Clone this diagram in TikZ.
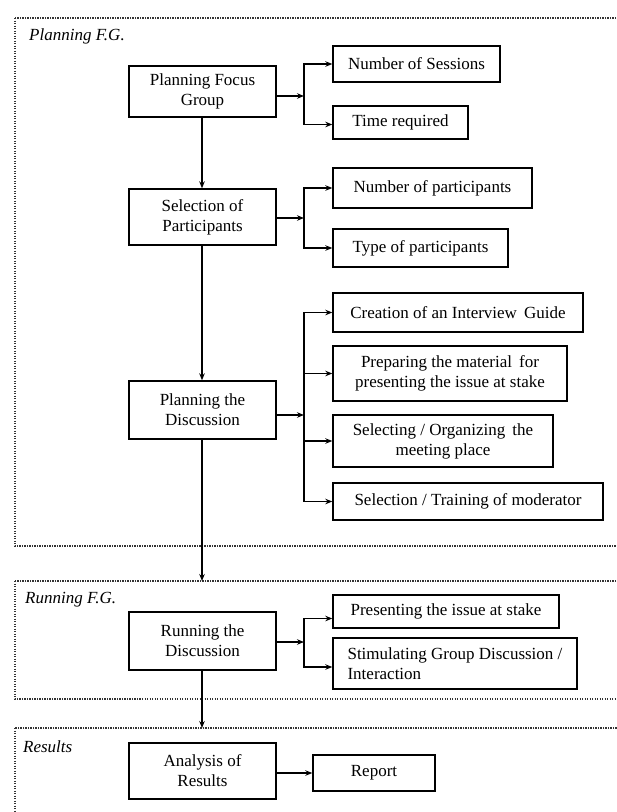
\documentclass[tikz,border=0pt]{standalone}
\usepackage{fontspec}
\setmainfont{Liberation Serif}
\usetikzlibrary{arrows.meta}
\begin{document}
\begin{tikzpicture}[x=1pt,y=-1pt,
  box/.style={draw=black, line width=1.4pt, align=center, rectangle,
    font=\fontsize{17}{20}\selectfont, inner sep=0pt},
  arr/.style={line width=1.5pt, -{Stealth[length=7pt,width=5.5pt]}},
  frame/.style={draw=black!80, line width=1.5pt, dash pattern=on 1.4pt off 1.1pt},
  stage/.style={font=\fontsize{17}{20}\selectfont\itshape, anchor=base west, inner sep=0pt}]
\useasboundingbox (0,0) rectangle (617,812);
\clip (0,0) rectangle (617,812);
\fill[white] (0,0) rectangle (617,812);

% stage frames
\draw[frame] (15,18) rectangle (640,546);
\draw[frame] (15,581) rectangle (640,699);
\draw[frame] (15,728) rectangle (640,840);
\node[stage] (lplan) at (29,40) {Planning F.G.};
\node[stage] (lrun) at (25,603) {Running F.G.};
\node[stage] (lres) at (23,752) {Results};

% main column
\node[box, minimum width=147pt, minimum height=51pt] (pfg) at (202.5,91.5) {Planning Focus\\Group};
\node[box, minimum width=147pt, minimum height=56pt] (sel) at (202.5,217) {Selection of\\Participants};
\node[box, minimum width=147pt, minimum height=58pt] (ptd) at (202.5,410) {Planning the\\Discussion};
\node[box, minimum width=147pt, minimum height=58pt] (rtd) at (202.5,641) {Running the\\Discussion};
\node[box, minimum width=147pt, minimum height=56pt] (aor) at (202.5,771) {Analysis of\\Results};

% branch boxes
\node[box, minimum width=167pt, minimum height=36pt] (ns) at (416.5,64) {Number of Sessions};
\node[box, minimum width=135pt, minimum height=33pt] (tr) at (400.5,122.5) {Time required};
\node[box, minimum width=199pt, minimum height=40pt] (np) at (432.5,188) {Number of participants};
\node[box, minimum width=175pt, minimum height=38pt] (tp) at (420.5,248) {Type of participants};
\node[box, minimum width=250pt, minimum height=39pt] (cig) at (458,312.5) {Creation of an Interview\, Guide};
\node[box, minimum width=234pt, minimum height=55pt] (pm) at (450,373.5) {Preparing the material\, for\\presenting the issue at stake};
\node[box, minimum width=220pt, minimum height=52pt] (so) at (443,441) {Selecting / Organizing\, the\\meeting place};
\node[box, minimum width=270pt, minimum height=37pt] (st) at (468,501.5) {Selection / Training of moderator};
\node[box, minimum width=226pt, minimum height=33pt] (pi) at (446,611.5) {Presenting the issue at stake};
\node[box, minimum width=244pt, minimum height=51pt, align=left] (sg) at (455,663.5) {Stimulating Group Discussion /\\Interaction};
\node[box, minimum width=122pt, minimum height=36pt] (rep) at (374,773) {Report};

% branching points
\coordinate (t1) at (304,96);
\coordinate (t2) at (304,218);
\coordinate (t3) at (304,415);
\coordinate (t4) at (304,642);
\coordinate (e1) at (202,581);
\coordinate (e2) at (202,728);

% main flow, drawn on the column line x = 202
\draw[arr] (pfg.south -| e1) -- (sel.north -| e1);
\draw[arr] (sel.south -| e1) -- (ptd.north -| e1);
\draw[arr] (ptd.south -| e1) -- (e1);
\draw[arr] (rtd.south -| e2) -- (e2);
\draw[arr] (aor.east |- rep.west) -- (rep.west);

% branches
\draw[arr] (pfg.east |- t1) -- (t1);
\draw[arr] (t1) |- (ns.west);
\draw[arr] (t1) |- ([yshift=-2pt]tr.west);

\draw[arr] (sel.east |- t2) -- (t2);
\draw[arr] (t2) |- (np.west);
\draw[arr] (t2) |- (tp.west);

\draw[arr] (ptd.east |- t3) -- (t3);
\draw[arr] (t3) |- (cig.west);
\draw[arr] (t3) |- (pm.west);
\draw[arr] (t3) |- (so.west);
\draw[arr] (t3) |- (st.west);

\draw[arr] (rtd.east |- t4) -- (t4);
\draw[arr] (t4) |- ([yshift=-7pt]pi.west);
\draw[arr] (t4) |- ([yshift=-3.5pt]sg.west);
\end{tikzpicture}
\end{document}
